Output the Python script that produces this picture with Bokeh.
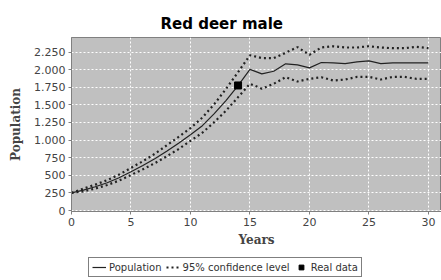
from bokeh.plotting import figure
from bokeh.layouts import column
from bokeh.models import Range1d, FixedTicker, Legend, LegendItem, Title
from bokeh.embed import file_html
from bokeh.resources import INLINE

years = list(range(0, 31))
population = [250, 290, 338, 395, 465, 550, 640, 735, 842, 955, 1075, 1205, 1375, 1565, 1775,
              2005, 1940, 1978, 2083, 2069, 2026, 2102, 2097, 2087, 2111, 2125, 2087, 2097, 2097, 2097, 2097]
upper_ci = [250, 310, 368, 432, 510, 605, 700, 805, 925, 1045, 1170, 1320, 1510, 1730, 1965,
            2205, 2165, 2165, 2240, 2320, 2211, 2315, 2333, 2315, 2315, 2333, 2315, 2305, 2305, 2324, 2305]
lower_ci = [250, 272, 312, 362, 425, 505, 585, 672, 770, 872, 990, 1105, 1255, 1420, 1610,
            1800, 1730, 1800, 1893, 1832, 1870, 1893, 1846, 1860, 1898, 1898, 1860, 1898, 1898, 1870, 1870]
real_years = [14]
real_values = [1776]
y_ticks = [0, 250, 500, 750, 1000, 1250, 1500, 1750, 2000, 2250]
y_tick_labels = ["0", "250", "500", "750", "1.000", "1.250", "1.500", "1.750", "2.000", "2.250"]
x_ticks = [0, 5, 10, 15, 20, 25, 30]
legend_labels = ["Population", "95% confidence level", "Real data"]

LINE_C = "#222222"

p = figure(width=441, height=256, output_backend="svg", toolbar_location=None,
           x_range=Range1d(0, 31.1), y_range=Range1d(-14, 2457),
           min_border_left=71, min_border_right=0, min_border_top=37, min_border_bottom=45)
p.background_fill_color = "#c0c0c0"
p.border_fill_color = "white"
p.outline_line_color = "#808080"

t = Title(text="Red deer male", align="left", offset=89, text_font="DejaVu Sans",
          text_font_size="15px", text_font_style="bold", text_color="black")
p.add_layout(t, "above")

for g in (p.xgrid, p.ygrid):
    g.grid_line_color = "white"
    g.grid_line_dash = "2 2"
    g.grid_line_width = 1
p.xgrid.ticker = FixedTicker(ticks=x_ticks)
p.ygrid.ticker = FixedTicker(ticks=y_ticks)

p.xaxis.ticker = FixedTicker(ticks=x_ticks)
p.yaxis.ticker = FixedTicker(ticks=y_ticks)
p.yaxis.major_label_overrides = {t_: l for t_, l in zip(y_ticks, y_tick_labels)}
for ax in (p.xaxis, p.yaxis):
    ax.axis_line_color = "#808080"
    ax.major_tick_line_color = "#808080"
    ax.major_tick_out = 3
    ax.major_tick_in = 0
    ax.minor_tick_line_color = None
    ax.major_label_text_font = "DejaVu Sans"
    ax.major_label_text_font_size = "11px"
    ax.major_label_text_color = "#444444"
    ax.axis_label_text_font = "DejaVu Serif"
    ax.axis_label_text_font_style = "bold"
    ax.axis_label_text_font_size = "12px"
    ax.axis_label_text_color = "#444444"
p.xaxis.axis_label = "Years"
p.yaxis.axis_label = "Population"
p.yaxis.major_label_standoff = 3
p.xaxis.major_label_standoff = 3
p.xaxis.axis_label_standoff = 4
p.yaxis.axis_label_standoff = 8

p.line(years, population, line_color=LINE_C, line_width=1.2)
p.line(years, upper_ci, line_color=LINE_C, line_width=2.2, line_dash="2 3")
p.line(years, lower_ci, line_color=LINE_C, line_width=2.2, line_dash="2 3")
p.scatter(real_years, real_values, marker="square", size=7, fill_color="black", line_color="black")

# legend strip below the chart (its series are drawn outside its visible range)
lg = figure(width=441, height=24, output_backend="svg", toolbar_location=None,
            x_range=Range1d(0, 1), y_range=Range1d(-20000, -10000), x_axis_type=None, y_axis_type=None,
            min_border_left=0, min_border_right=0, min_border_top=0, min_border_bottom=0)
lg.outline_line_color = None
lg.xgrid.visible = False
lg.ygrid.visible = False
e_pop = lg.line(years, population, line_color=LINE_C, line_width=1.2)
e_ci = lg.line(years, upper_ci, line_color=LINE_C, line_width=2.2, line_dash="2 3")
e_real = lg.scatter(real_years, real_values, marker="square", size=7, fill_color="black", line_color="black")
legend = Legend(items=[LegendItem(label=legend_labels[0], renderers=[e_pop]),
                       LegendItem(label=legend_labels[1], renderers=[e_ci]),
                       LegendItem(label=legend_labels[2], renderers=[e_real])],
                orientation="horizontal", location=(17, 3),
                label_text_font="DejaVu Sans", label_text_font_size="10px", label_text_color="#333333",
                glyph_width=14, glyph_height=12, label_standoff=3, spacing=4, padding=3, margin=0,
                label_height=12, border_line_color="black", border_line_width=1,
                background_fill_color="white", background_fill_alpha=1)
lg.add_layout(legend, "center")

layout = column(p, lg, spacing=0)
open("out.html", "w").write(file_html(layout, INLINE))
